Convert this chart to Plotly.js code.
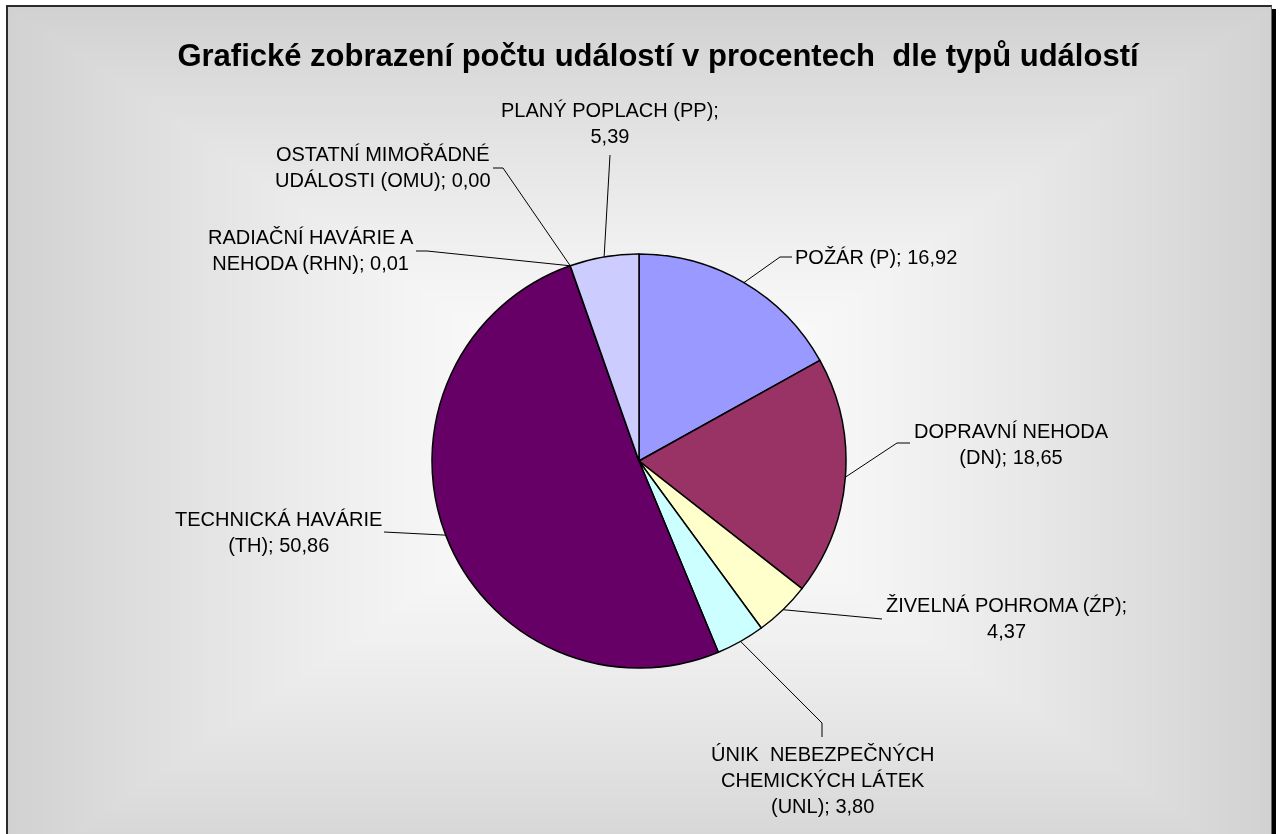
<!DOCTYPE html>
<html>
<head>
<meta charset="utf-8">
<script src="https://cdn.plot.ly/plotly-3.0.1.min.js"></script>
<style>
  html, body { margin: 0; padding: 0; overflow: hidden; background: #ffffff; width: 1282px; height: 834px; }
  #frame { position: absolute; left: 6px; top: 5px; border-top: 2px solid #2b2b2b; border-left: 2px solid #2b2b2b; border-right: 1px solid #666666; box-shadow: 4px 4px 0 #000000; }
  #chart { position: absolute; left: 0; top: 0; width: 1282px; height: 834px; }
</style>
</head>
<body>
<canvas id="frame" width="1263" height="900"></canvas>
<div id="chart"></div>
<script>
// data (percent of events by type)
const categories = [
  "POŽÁR (P)",
  "DOPRAVNÍ NEHODA<br>(DN)",
  "ŽIVELNÁ POHROMA (ŹP)",
  "ÚNIK\u00a0 NEBEZPEČNÝCH<br>CHEMICKÝCH LÁTEK<br>(UNL)",
  "TECHNICKÁ HAVÁRIE<br>(TH)",
  "RADIAČNÍ HAVÁRIE A<br>NEHODA (RHN)",
  "OSTATNÍ MIMOŘÁDNÉ<br>UDÁLOSTI (OMU)",
  "PLANÝ POPLACH (PP)"
];
const percent = [16.92, 18.65, 4.37, 3.80, 50.86, 0.01, 0.00, 5.39];
const sliceColors = ["#9999FF", "#993366", "#FFFFCC", "#CCFFFF", "#660066", "#FF8080", "#0066CC", "#CCCCFF"];

// label placement (page pixels): text centre, elbow of leader line, end of leader line
const separators = ["; ", "; ", ";<br>", "; ", "; ", "; ", "; ", ";<br>"];
const labelPos = [[876, 257], [1011, 444], [1006, 618], [822, 780], [278, 532], [311, 250], [383, 167], [610, 123]];
const elbows = [[780, 257], [897, 443], null, [822, 723], null, [427, 251], [503, 168], null];
const lineEnds = [[792, 257], [910, 443], [882, 619], [822, 737], [384, 532], [416, 251], [493, 168], [610, 155]];

const W = 1282, H = 834;
const cx = 639, cy = 461, R = 207;

// background: rectangular gradient from the centre, like the office chart area
(function () {
  const cv = document.getElementById("frame");
  const ctx = cv.getContext("2d");
  const img = ctx.createImageData(cv.width, cv.height);
  const ox = cx - 6, oy = 435, hw = 633, hh = 435;
  for (let y = 0; y < cv.height; y++) {
    for (let x = 0; x < cv.width; x++) {
      let t = Math.max(Math.abs(x - ox) / hw, Math.abs(y - oy) / hh);
      if (t > 1) t = 1;
      const c = Math.round(255 - 46 * Math.pow(t, 1.4));
      const i = (y * cv.width + x) * 4;
      img.data[i] = c; img.data[i + 1] = c; img.data[i + 2] = c; img.data[i + 3] = 255;
    }
  }
  ctx.putImageData(img, 0, 0);
})();

function px(x) { return x / W; }
function py(y) { return 1 - y / H; }

const trace = {
  type: "pie",
  labels: categories,
  values: percent,
  sort: false,
  direction: "clockwise",
  rotation: 0,
  textinfo: "none",
  hoverinfo: "label+value",
  marker: { colors: sliceColors, line: { color: "#000000", width: 1.5 } },
  domain: { x: [px(cx - R), px(cx + R)], y: [py(cy + R), py(cy - R)] },
  showlegend: false
};

// leader lines start on the rim at each slice's middle angle
const total = percent.reduce((a, b) => a + b, 0);
let cum = 0;
const shapes = [];
const annotations = [];
for (let i = 0; i < percent.length; i++) {
  const mid = (cum + percent[i] / 2) / total * 2 * Math.PI;
  cum += percent[i];
  const ax = cx + R * Math.sin(mid);
  const ay = cy - R * Math.cos(mid);
  let path = "M" + px(ax) + "," + py(ay);
  if (elbows[i]) path += " L" + px(elbows[i][0]) + "," + py(elbows[i][1]);
  path += " L" + px(lineEnds[i][0]) + "," + py(lineEnds[i][1]);
  shapes.push({
    type: "path", xref: "paper", yref: "paper", path: path,
    line: { color: "#000000", width: 1 }, layer: "above"
  });
  annotations.push({
    xref: "paper", yref: "paper",
    x: px(labelPos[i][0]), y: py(labelPos[i][1]),
    xanchor: "center", yanchor: "middle", align: "center", showarrow: false,
    text: categories[i] + separators[i] + percent[i].toFixed(2).replace(".", ","),
    font: { family: "Liberation Sans, Arial, sans-serif", size: 20, color: "#000000" }
  });
}

const layout = {
  width: W,
  height: H,
  margin: { l: 0, r: 0, t: 0, b: 0 },
  paper_bgcolor: "rgba(0,0,0,0)",
  plot_bgcolor: "rgba(0,0,0,0)",
  title: {
    text: "<b>Grafické zobrazení počtu událostí v procentech  dle typů událostí</b>",
    x: 658 / W, xanchor: "center",
    y: 1 - 55 / H, yanchor: "middle",
    font: { family: "Liberation Sans, Arial, sans-serif", size: 31, color: "#000000" }
  },
  shapes: shapes,
  annotations: annotations
};

Plotly.newPlot("chart", [trace], layout, { displayModeBar: false, staticPlot: true });
</script>
</body>
</html>
